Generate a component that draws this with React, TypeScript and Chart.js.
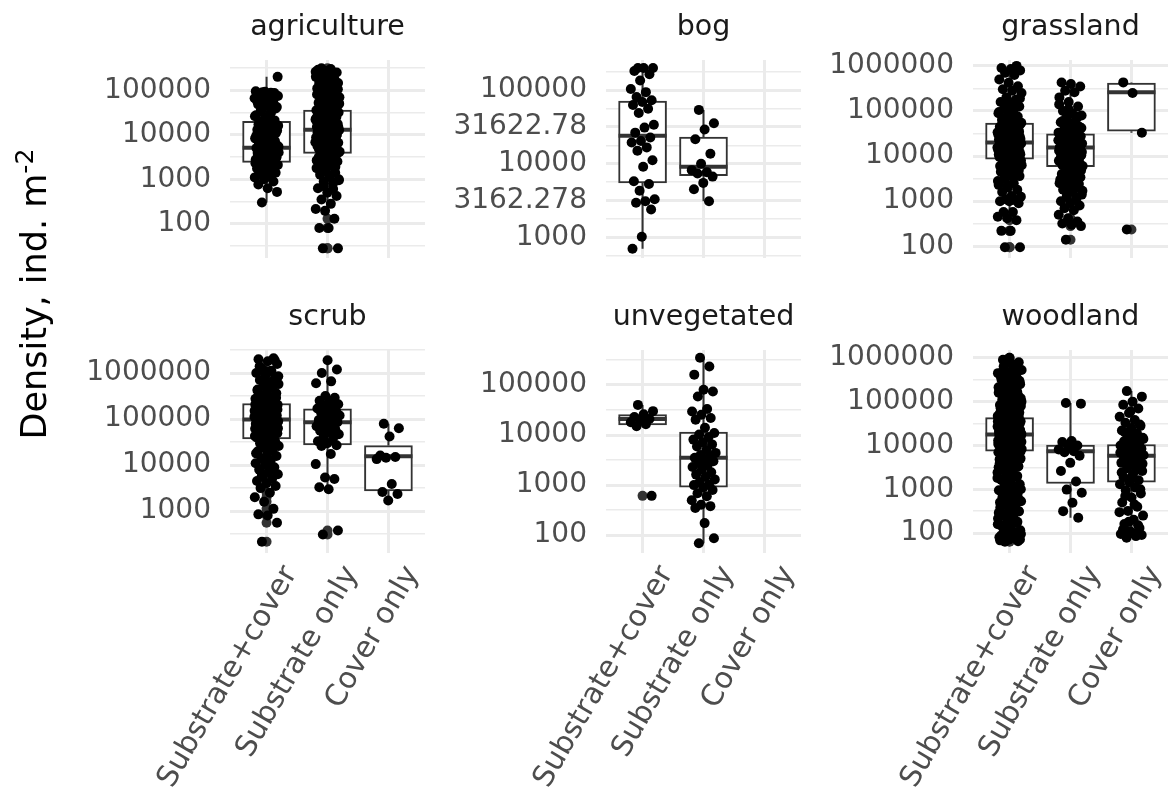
import React, { useEffect, useRef } from "react";
import { Chart, registerables } from "chart.js";

Chart.register(...registerables);

const FONT = "'DejaVu Sans', 'Liberation Sans', sans-serif";
Chart.defaults.font.family = FONT;

const categories = ["Substrate+cover", "Substrate only", "Cover only"];

// ---------------- agriculture ----------------
const agricultureSubstrateCover = [300, 520, 630, 760, 890, 1000, 1100, 1250, 1300, 1400, 1600, 1750, 1900, 2050, 2100, 2200, 2350, 2450, 2550, 2750, 2900, 3000, 3150, 3300, 3400, 3550, 3700, 4000, 4150, 4350, 4550, 4800, 5000, 5250, 5600, 5750, 6300, 6900, 7600, 8000, 8300, 9100, 10000, 11000, 12000, 13000, 14500, 15000, 16000, 17500, 19500, 21000, 24000, 27500, 31500, 36000, 42000, 45000, 48000, 54000, 60000, 66000, 68000, 72000, 76000, 79000, 83000, 85000, 90000, 200000, 1150, 1500, 1700, 2000, 2300, 2600, 2800, 3100, 3600, 3900, 4200, 4700, 5400, 6000, 6600, 7200, 8800, 9500, 10500, 11500, 12500, 14000, 17000, 18500, 22000, 26000, 29000, 34000, 39000, 51000, 57000, 63000, 70000, 74000, 78000, 81000, 87000, 92000, 95000, 88000];
const agricultureSubstrateOnly = [28, 28, 80, 80, 130, 195, 215, 280, 350, 420, 500, 630, 800, 890, 1000, 1120, 1260, 1400, 1600, 1780, 2000, 2240, 2500, 2800, 3160, 3550, 4000, 4170, 4470, 4680, 5000, 5250, 5620, 5890, 6300, 6600, 7080, 7400, 7940, 8300, 8700, 9100, 9550, 10000, 10500, 11000, 11500, 12000, 12600, 12900, 13200, 13800, 14500, 15100, 15800, 16600, 17400, 18200, 19000, 20000, 20900, 21900, 22900, 24000, 25100, 26300, 27500, 28800, 30200, 31600, 32400, 33100, 33900, 34700, 35500, 36300, 39800, 43700, 47900, 52500, 57500, 63100, 69200, 75900, 83200, 91200, 100000, 110000, 120000, 132000, 145000, 158000, 160000, 174000, 190000, 200000, 209000, 229000, 251000, 269000, 288000, 600, 700, 950, 1200, 1500, 1900, 2100, 2650, 3000, 3400, 3800, 4300, 4800, 5450, 6100, 6800, 7700, 8500, 9300, 10200, 11200, 12300, 13500, 14800, 16200, 17800, 19500, 21400, 23500, 25700, 28100, 31000, 34300, 38000, 42000, 46000, 50000, 55000, 60000, 66000, 72000, 80000, 87000, 95000, 105000, 115000, 140000, 170000, 220000, 260000, 300000, 310000];
const agricultureCoverOnly: number[] = [];
// [lower whisker, Q1, median, Q3, upper whisker]
const agricultureBoxes = [[300, 2400, 5100, 20000, 200000], [180, 3800, 13000, 36000, 290000], null];
const agricultureTickLabels = ["100", "1000", "10000", "100000"];
const agricultureLimits = [17, 478000];

// ---------------- bog ----------------
const bogSubstrateCover = [200000, 200000, 200000, 182000, 165000, 135000, 104000, 94000, 81000, 73000, 69000, 63000, 56000, 49000, 34000, 31000, 26500, 22700, 20400, 19500, 16700, 15000, 11200, 9100, 5800, 5300, 4300, 3300, 3100, 2950, 2400, 1020, 700];
const bogSubstrateOnly = [54000, 35500, 29300, 21600, 13700, 10000, 8200, 7700, 7400, 6700, 5500, 4500, 3100];
const bogCoverOnly: number[] = [];
const bogBoxes = [[700, 5500, 24000, 71000, 200000], [3100, 6900, 9100, 23000, 54000], null];
const bogTickLabels = ["1000", "3162.278", "10000", "31622.78", "100000"];
const bogLimits = [525, 257000];

// ---------------- grassland ----------------
const grasslandSubstrateCover = [95, 95, 220, 220, 380, 420, 450, 575, 575, 900, 1000, 1000, 1050, 1100, 1260, 1300, 1600, 1800, 2000, 2300, 2500, 3160, 3600, 4000, 4500, 5000, 5600, 6300, 7000, 7600, 8700, 9100, 9550, 10000, 10500, 11000, 11500, 12000, 12600, 13200, 13800, 14500, 15100, 15800, 16600, 17400, 17800, 18200, 19000, 19500, 20400, 21400, 22400, 23400, 24500, 25700, 26900, 28200, 29500, 30900, 32400, 33900, 35500, 37200, 38900, 41700, 44700, 46800, 50100, 52500, 57500, 63100, 70800, 79400, 89100, 100000, 112000, 126000, 141000, 158000, 178000, 200000, 251000, 280000, 302000, 355000, 420000, 501000, 631000, 700000, 794000, 850000, 900000, 1000000, 2200, 2800, 3400, 4200, 4800, 5300, 6000, 6700, 7300, 8000, 8300, 9300, 9800, 10300, 10800, 11300, 11800, 12300, 12900, 13500, 14200, 14800, 15500, 16200, 17000, 18600, 20000, 21000, 22000, 23000, 24000, 25000, 26300, 27500, 29000, 30000, 31500, 33000, 34500, 36500, 40000, 43000, 48000, 55000, 60000, 67000, 75000, 85000, 95000, 120000, 150000, 190000];
const grasslandSubstrateOnly = [140, 280, 300, 320, 355, 420, 500, 630, 700, 800, 900, 1000, 1100, 1260, 1400, 1600, 1800, 2000, 2200, 2500, 2800, 3160, 3400, 3800, 4000, 4470, 5250, 6000, 6600, 7100, 7600, 8100, 8700, 9300, 10000, 10500, 11000, 11500, 12000, 12600, 13200, 13800, 14500, 15100, 15800, 16600, 17400, 18200, 19000, 20000, 20900, 21900, 22900, 24000, 25100, 26300, 27500, 28200, 28800, 29500, 30200, 33100, 36300, 39800, 44700, 50100, 56200, 63100, 70800, 79400, 89100, 100000, 126000, 158000, 200000, 260000, 282000, 350000, 398000, 427000, 1200, 1500, 1700, 1900, 2100, 2400, 2700, 3000, 3600, 4200, 4800, 5600, 6300, 6900, 7400, 7900, 8400, 9000, 9700, 10300, 10800, 11300, 11800, 12300, 12900, 13500, 14200, 14800, 15500, 16200, 17000, 17800, 18600, 19500, 20400, 21400, 22400, 23500, 24500, 26000, 27000, 29000, 31000, 35000, 42000, 48000, 60000, 75000, 110000, 140000];
const grasslandCoverOnly = [235, 33000, 251000, 430000];
const grasslandBoxes = [[575, 8500, 20000, 54000, 1000000], [500, 5800, 15500, 31000, 427000], [33000, 35500, 260000, 415000, 430000]];
const grasslandTickLabels = ["100", "1000", "10000", "100000", "1000000"];
const grasslandLimits = [55, 1350000];

// ---------------- scrub ----------------
const scrubSubstrateCover = [215, 560, 800, 850, 1120, 1600, 2000, 2500, 3160, 3500, 4000, 4500, 5000, 5600, 6300, 7000, 7900, 9000, 10000, 11000, 12600, 14000, 15800, 17000, 20000, 22000, 24000, 26000, 28200, 30000, 33100, 35000, 39800, 42700, 45700, 49000, 51300, 53700, 56200, 58900, 61700, 64600, 67600, 70800, 74100, 77600, 81300, 85100, 89100, 91200, 93300, 95500, 100000, 105000, 110000, 115000, 120000, 126000, 132000, 138000, 145000, 151000, 158000, 166000, 174000, 182000, 191000, 195000, 200000, 204000, 209000, 214000, 229000, 251000, 275000, 302000, 331000, 363000, 398000, 437000, 479000, 525000, 575000, 631000, 708000, 794000, 891000, 1000000, 1120000, 1260000, 1580000, 1800000, 2000000, 2100000, 40000, 43000, 46000, 48000, 50000, 52000, 55000, 57000, 60000, 63000, 66000, 69000, 72000, 76000, 79000, 83000, 87000, 90000, 94000, 97000, 102000, 107000, 112000, 118000, 123000, 129000, 135000, 141000, 148000, 155000, 162000, 170000, 178000, 186000, 198000, 206000, 212000, 240000, 290000, 350000, 420000, 550000, 670000, 850000, 1100000, 1400000, 1900000, 12000, 18000, 8000, 6000];
const scrubSubstrateOnly = [310, 380, 3000, 3300, 5000, 5400, 10500, 17400, 26000, 27000, 30000, 33000, 38000, 42000, 47000, 52000, 56000, 60000, 65000, 70000, 75000, 80000, 85000, 90000, 95000, 100000, 110000, 120000, 130000, 140000, 150000, 160000, 170000, 185000, 200000, 210000, 230000, 250000, 290000, 316000, 600000, 660000, 1000000, 1200000, 1900000];
const scrubCoverOnly = [79000, 63000, 42000, 16200, 15000, 14500, 13500, 3900, 2600, 2350, 1700];
const scrubBoxes = [[3160, 37000, 98000, 218000, 2100000], [3000, 27500, 85000, 166000, 1900000], [1700, 2750, 15500, 26500, 79000]];
const scrubTickLabels = ["1000", "10000", "100000", "1000000"];
const scrubLimits = [123, 3170000];

// ---------------- unvegetated ----------------
const unvegetatedSubstrateCover = [40000, 30000, 26000, 23000, 21000, 20000, 18000, 16500, 15000, 610];
const unvegetatedSubstrateOnly = [69, 87, 174, 350, 380, 405, 500, 600, 690, 800, 900, 1000, 1020, 1150, 1300, 1450, 1620, 1800, 2040, 2300, 2500, 2750, 3000, 3300, 3500, 3700, 4000, 4400, 5000, 5900, 6500, 7200, 8100, 9000, 10200, 11000, 14000, 20300, 21900, 25500, 29500, 33000, 59000, 74000, 80000, 161000, 234000, 350000];
const unvegetatedCoverOnly: number[] = [];
const unvegetatedBoxes = [[15000, 16000, 21000, 25500, 40000], [69, 910, 3500, 11500, 350000], null];
const unvegetatedTickLabels = ["100", "1000", "10000", "100000"];
const unvegetatedLimits = [44, 500000];

// ---------------- woodland ----------------
const woodlandSubstrateCover = [63, 71, 79, 89, 100, 126, 158, 200, 251, 316, 398, 501, 631, 794, 1000, 1259, 1585, 1995, 2512, 3162, 3800, 4470, 5250, 6030, 6920, 7760, 7940, 8320, 8510, 8910, 9120, 9550, 9770, 10200, 10500, 11000, 11200, 11700, 12000, 12600, 12900, 13500, 13800, 14500, 14800, 15500, 15800, 16600, 17000, 17400, 18200, 19100, 19500, 20400, 20900, 21900, 22400, 23400, 24000, 25100, 25700, 26900, 27500, 28800, 29500, 30900, 31600, 33100, 33900, 35500, 36300, 38000, 38900, 40700, 41700, 44700, 50100, 56200, 63100, 70800, 79400, 89100, 100000, 112000, 126000, 141000, 158000, 178000, 200000, 224000, 251000, 282000, 316000, 355000, 398000, 447000, 501000, 631000, 794000, 1000000, 68, 75, 85, 95, 110, 140, 180, 230, 290, 360, 450, 560, 700, 900, 1100, 1400, 1800, 2200, 2800, 3400, 4100, 4800, 5600, 6500, 7200, 8100, 8700, 9300, 10000, 10800, 11500, 12300, 13200, 14100, 15100, 16200, 17200, 18700, 20000, 21400, 23000, 24500, 26300, 28100, 30200, 32300, 34700, 37100, 39800, 42500, 47000, 53000, 60000, 67000, 75000, 84000, 95000, 106000, 119000, 133000, 150000, 168000, 189000, 212000, 238000, 267000, 300000, 335000, 376000, 422000, 473000, 530000, 700000, 900000, 65, 70, 80, 92, 105, 115, 130, 150, 170, 190, 215, 240, 270, 310, 340, 380, 420, 480, 530, 600, 660, 750, 850, 950, 1050, 1200, 1300, 1500, 1650, 1900, 2100, 2400, 2600, 3000, 3300, 3600, 3900, 4300, 4600, 5000, 5400, 5900, 6200, 6700, 7000, 7500, 8000, 8500, 9000, 9600, 10400, 11300, 12100, 13000, 14000, 15000, 16000, 17500, 19000, 21000, 22500, 25000, 27000, 29000, 32000, 35000, 38500, 42000, 46000, 50000, 55000, 62000, 70000, 80000, 90000, 110000, 125000, 145000, 160000, 185000, 230000, 280000, 350000, 450000, 600000, 800000];
const woodlandSubstrateOnly = [93000, 90000, 12600, 12000, 10000, 9500, 8100, 7400, 7000, 5800, 4000, 2600, 1500, 980, 830, 490, 316, 224];
const woodlandCoverOnly = [174000, 130000, 100000, 85000, 70000, 55000, 45000, 38000, 33000, 28000, 25000, 22000, 19000, 17000, 15000, 13500, 12500, 11500, 10500, 10000, 9500, 9000, 8500, 8000, 7500, 7000, 6500, 6000, 5800, 5500, 5000, 4500, 4000, 3500, 3000, 2600, 2200, 1900, 1600, 1450, 1300, 1100, 950, 800, 650, 500, 400, 320, 250, 200, 160, 130, 110, 95, 85, 78, 90, 100, 120, 150, 180, 300, 450, 700, 1000, 1700, 2400, 2800, 3200, 3800, 4200, 4800, 5200, 6200, 6800, 7200, 7800, 8200, 8800, 9200, 11000, 12000, 14000, 16000, 20000, 30000, 60000];
const woodlandBoxes = [[550, 7400, 17800, 43000, 590000], [224, 1350, 7400, 10200, 93000], [78, 1450, 5800, 10500, 174000]];
const woodlandTickLabels = ["100", "1000", "10000", "100000", "1000000"];
const woodlandLimits = [35, 1510000];

type Panel = {
  title: string;
  groups: number[][];
  boxes: (number[] | null)[];
  tickLabels: string[];
  limits: number[];
  left: number;
  top: number;
  bottomRow: boolean;
};

const AXIS_W = 220;
const PLOT_W = 200;
const PLOT_H = 203;
const TITLE_H = 49;
const XAXIS_H = 246;
const TOP_ROW = 11;
const BOTTOM_ROW = 301;

const panels: Panel[] = [
  { title: "agriculture", groups: [agricultureSubstrateCover, agricultureSubstrateOnly, agricultureCoverOnly], boxes: agricultureBoxes, tickLabels: agricultureTickLabels, limits: agricultureLimits, left: 10, top: TOP_ROW, bottomRow: false },
  { title: "bog", groups: [bogSubstrateCover, bogSubstrateOnly, bogCoverOnly], boxes: bogBoxes, tickLabels: bogTickLabels, limits: bogLimits, left: 386, top: TOP_ROW, bottomRow: false },
  { title: "grassland", groups: [grasslandSubstrateCover, grasslandSubstrateOnly, grasslandCoverOnly], boxes: grasslandBoxes, tickLabels: grasslandTickLabels, limits: grasslandLimits, left: 753, top: TOP_ROW, bottomRow: false },
  { title: "scrub", groups: [scrubSubstrateCover, scrubSubstrateOnly, scrubCoverOnly], boxes: scrubBoxes, tickLabels: scrubTickLabels, limits: scrubLimits, left: 10, top: BOTTOM_ROW, bottomRow: true },
  { title: "unvegetated", groups: [unvegetatedSubstrateCover, unvegetatedSubstrateOnly, unvegetatedCoverOnly], boxes: unvegetatedBoxes, tickLabels: unvegetatedTickLabels, limits: unvegetatedLimits, left: 386, top: BOTTOM_ROW, bottomRow: true },
  { title: "woodland", groups: [woodlandSubstrateCover, woodlandSubstrateOnly, woodlandCoverOnly], boxes: woodlandBoxes, tickLabels: woodlandTickLabels, limits: woodlandLimits, left: 753, top: BOTTOM_ROW, bottomRow: true },
];

// deterministic horizontal jitter (position only)
function jitter(i: number) {
  return (((i * 0.6180339887 + 0.31) % 1) * 2 - 1) * 0.2;
}

function buildYTicks(labels: string[], limits: number[]) {
  const majors = labels.map(Number);
  const logs = majors.map((v) => Math.log10(v));
  const step = logs.length > 1 ? logs[1] - logs[0] : 1;
  const lo = Math.log10(limits[0]);
  const hi = Math.log10(limits[1]);
  const ticks: any[] = majors.map((v, i) => ({ value: v, lbl: labels[i] }));
  for (let k = -1; k < logs.length; k++) {
    const m = logs[0] + (k + 0.5) * step;
    if (m >= lo && m <= hi) ticks.push({ value: Math.pow(10, m), lbl: "" });
  }
  return ticks.filter((t) => t.value >= limits[0] && t.value <= limits[1]).sort((a, b) => a.value - b.value);
}

function PanelChart({ panel }: { panel: Panel }) {
  const ref = useRef<HTMLCanvasElement>(null);
  const height = TITLE_H + PLOT_H + (panel.bottomRow ? XAXIS_H : 0);
  const width = AXIS_W + PLOT_W;

  useEffect(() => {
    const canvas = ref.current;
    if (!canvas) return;
    const barData: any[] = [];
    const barStats: number[][] = [];
    panel.boxes.forEach((b, gi) => {
      if (b) {
        barData.push({ x: gi, y: [b[1], b[3]] });
        barStats.push(b);
      }
    });
    const outliers: any[] = [];
    const points: any[] = [];
    panel.groups.forEach((vals, gi) => {
      const b = panel.boxes[gi];
      vals.forEach((v, i) => {
        if (b && (v < b[0] || v > b[4])) outliers.push({ x: gi, y: v });
        points.push({ x: gi + jitter(i), y: v });
      });
    });
    const yTicks = buildYTicks(panel.tickLabels, panel.limits);

    const boxPlugin = {
      id: "boxWhiskers",
      afterDatasetDraw(chart: any, args: any) {
        if (args.index !== 0) return;
        const ctx = chart.ctx;
        const ys = chart.scales.y;
        ctx.save();
        ctx.strokeStyle = "#333333";
        ctx.lineCap = "butt";
        args.meta.data.forEach((el: any, j: number) => {
          const st = barStats[j];
          const { x, width: w } = el.getProps(["x", "width"], true);
          ctx.lineWidth = 2;
          ctx.beginPath();
          ctx.moveTo(x, ys.getPixelForValue(st[3]));
          ctx.lineTo(x, ys.getPixelForValue(st[4]));
          ctx.moveTo(x, ys.getPixelForValue(st[1]));
          ctx.lineTo(x, ys.getPixelForValue(st[0]));
          ctx.stroke();
          const my = ys.getPixelForValue(st[2]);
          ctx.lineWidth = 4;
          ctx.beginPath();
          ctx.moveTo(x - w / 2, my);
          ctx.lineTo(x + w / 2, my);
          ctx.stroke();
        });
        ctx.restore();
      },
    };

    const chart = new Chart(canvas, {
      type: "bar",
      data: {
        datasets: [
          {
            type: "bar",
            data: barData,
            backgroundColor: "#ffffff",
            borderColor: "#333333",
            borderWidth: 2,
            borderSkipped: false,
            barThickness: 48,
            order: 3,
          } as any,
          {
            type: "scatter",
            data: outliers,
            backgroundColor: "#333333",
            borderColor: "#333333",
            pointRadius: 5,
            pointBorderWidth: 0,
            order: 2,
          } as any,
          {
            type: "scatter",
            data: points,
            backgroundColor: "#000000",
            borderColor: "#000000",
            pointRadius: 5,
            pointBorderWidth: 0,
            order: 1,
          } as any,
        ],
      },
      options: {
        responsive: false,
        animation: false,
        events: [],
        layout: { padding: 0 },
        plugins: {
          legend: { display: false },
          tooltip: { enabled: false },
          colors: { enabled: false },
          title: {
            display: true,
            text: panel.title,
            fullSize: false,
            color: "#1a1a1a",
            font: { family: FONT, size: 28.5, weight: "normal", lineHeight: "34px" },
            padding: { top: 0, bottom: 15 },
          },
        } as any,
        scales: {
          x: {
            type: "linear",
            position: "bottom",
            min: -0.6,
            max: 2.6,
            offset: false,
            afterBuildTicks: (s: any) => {
              s.ticks = [0, 1, 2].map((v) => ({ value: v }));
            },
            afterFit: (s: any) => {
              s.height = panel.bottomRow ? XAXIS_H : 0;
              s.paddingLeft = 0;
              s.paddingRight = 0;
              s.paddingTop = 0;
              s.paddingBottom = 0;
            },
            grid: { color: "#ebebeb", lineWidth: 3, drawTicks: false, offset: false },
            border: { display: false },
            ticks: {
              display: panel.bottomRow,
              autoSkip: false,
              minRotation: 60,
              maxRotation: 60,
              padding: 7,
              labelOffset: 24,
              color: "#4d4d4d",
              font: { family: FONT, size: 29.5 },
              callback: (v: any) => categories[v as number] ?? "",
            },
          } as any,
          y: {
            type: "logarithmic",
            min: panel.limits[0],
            max: panel.limits[1],
            afterBuildTicks: (s: any) => {
              s.ticks = yTicks.map((t) => ({ ...t }));
            },
            afterFit: (s: any) => {
              s.width = AXIS_W;
              s.paddingTop = 0;
              s.paddingBottom = 0;
              s.paddingLeft = 0;
              s.paddingRight = 0;
            },
            grid: {
              color: "#ebebeb",
              lineWidth: (c: any) => (c.tick && c.tick.lbl ? 3 : 1.6),
              drawTicks: false,
            },
            border: { display: false },
            ticks: {
              autoSkip: false,
              padding: 19,
              color: "#4d4d4d",
              font: { family: FONT, size: 28 },
              callback: (_v: any, i: number, ts: any[]) => (ts[i] && ts[i].lbl) || "",
            },
          } as any,
        },
      },
      plugins: [boxPlugin],
    } as any);
    return () => chart.destroy();
  }, [panel]);

  return (
    <canvas
      ref={ref}
      width={width}
      height={height}
      style={{ position: "absolute", left: panel.left, top: panel.top, width, height }}
    />
  );
}

export default function App() {
  return (
    <div
      style={{
        position: "absolute",
        left: 0,
        top: 0,
        width: 1171,
        height: 796,
        overflow: "hidden",
        background: "#ffffff",
      }}
    >
      {panels.map((p) => (
        <PanelChart key={p.title} panel={p} />
      ))}
      <div
        style={{
          position: "absolute",
          left: 34 - 220,
          top: 294 - 20,
          width: 440,
          height: 40,
          lineHeight: "40px",
          textAlign: "center",
          transform: "rotate(-90deg)",
          fontFamily: FONT,
          fontSize: 35,
          color: "#000000",
          whiteSpace: "nowrap",
        }}
      >
        Density, ind. m<sup style={{ fontSize: "72%", lineHeight: 0 }}>-2</sup>
      </div>
    </div>
  );
}
